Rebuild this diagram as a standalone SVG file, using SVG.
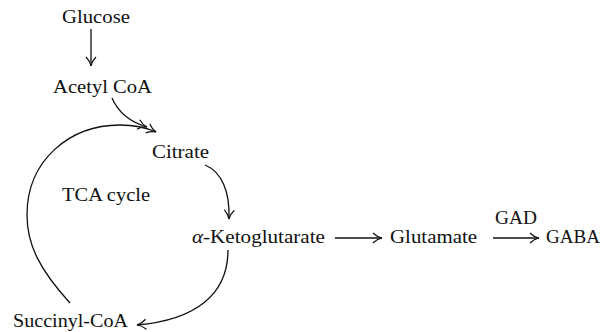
<svg xmlns="http://www.w3.org/2000/svg" width="605" height="332" viewBox="0 0 605 332">
<defs>
<style>
text{font-family:"Liberation Serif","Times New Roman",serif;font-size:19px;fill:#111}
.c{fill:none;stroke:#111;stroke-width:1.3}
</style>
<marker id="ah" viewBox="0 0 12 12" refX="11" refY="6" markerWidth="12" markerHeight="12" markerUnits="userSpaceOnUse" orient="auto">
<path d="M2,1 Q6,5 11,6 Q6,7 2,11" fill="none" stroke="#111" stroke-width="1.2"/>
</marker>
</defs>
<rect width="605" height="332" fill="#fff"/>
<g id="connectors">
<path class="c" d="M91,29 V66" marker-end="url(#ah)"/>
<path class="c" d="M112,98 C118,112 130,122 147,127" marker-end="url(#ah)"/>
<path class="c" d="M70,303 C40,270 27,245 27,215 C27,160 70,125 120,125 C135,125 147,128 156,132" marker-end="url(#ah)"/>
<path class="c" d="M205,165 C222,172 230,192 229,219" marker-end="url(#ah)"/>
<path class="c" d="M228,250 C228,295 195,320 137,325" marker-end="url(#ah)"/>
<path class="c" d="M335,238 H382" marker-end="url(#ah)"/>
<path class="c" d="M493,238 H539" marker-end="url(#ah)"/>
</g>
<g id="glucose"><text x="62" y="23" textLength="68" lengthAdjust="spacingAndGlyphs">Glucose</text></g>
<g id="acetylcoa"><text x="53" y="93" textLength="99" lengthAdjust="spacingAndGlyphs">Acetyl CoA</text></g>
<g id="citrate"><text x="152" y="158" textLength="57" lengthAdjust="spacingAndGlyphs">Citrate</text></g>
<g id="tca"><text x="62" y="201" textLength="88" lengthAdjust="spacingAndGlyphs">TCA cycle</text></g>
<g id="ketoglutarate"><text x="192" y="243" textLength="133" lengthAdjust="spacingAndGlyphs"><tspan font-style="italic">α</tspan>-Ketoglutarate</text></g>
<g id="glutamate"><text x="390" y="243" textLength="87" lengthAdjust="spacingAndGlyphs">Glutamate</text></g>
<g id="gad"><text x="495" y="224" textLength="42" lengthAdjust="spacingAndGlyphs">GAD</text></g>
<g id="gaba"><text x="546" y="243" textLength="54" lengthAdjust="spacingAndGlyphs">GABA</text></g>
<g id="succinylcoa"><text x="13" y="327" textLength="115" lengthAdjust="spacingAndGlyphs">Succinyl-CoA</text></g>
</svg>
